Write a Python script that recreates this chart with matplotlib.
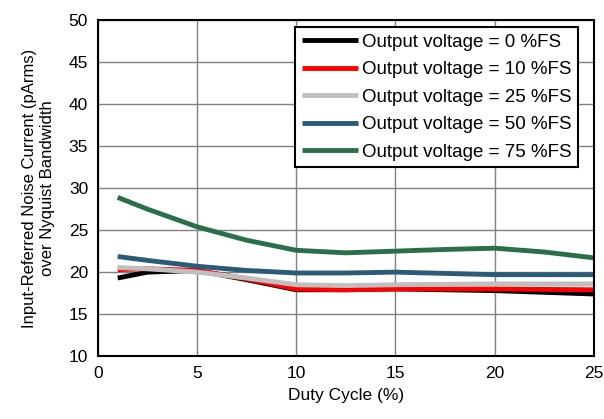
import matplotlib.pyplot as plt

plt.rcParams['font.family'] = ['Liberation Sans', 'DejaVu Sans']

duty = [1, 2.5, 5, 7.5, 10, 12.5, 15, 17.5, 20, 22.5, 25]

v0 = [19.3, 20.0, 20.2, 19.1, 17.9, 17.9, 18.0, 17.9, 17.8, 17.6, 17.4]
v10 = [20.3, 20.4, 20.2, 19.2, 18.0, 17.9, 18.0, 18.0, 18.0, 17.95, 17.9]
v25 = [20.55, 20.4, 20.0, 19.3, 18.5, 18.4, 18.5, 18.55, 18.6, 18.6, 18.6]
v50 = [21.86, 21.4, 20.7, 20.2, 19.9, 19.9, 20.0, 19.85, 19.7, 19.7, 19.7]
v75 = [28.9, 27.5, 25.4, 23.8, 22.6, 22.3, 22.5, 22.7, 22.85, 22.4, 21.7]

labels = ['Output voltage = 0 %FS', 'Output voltage = 10 %FS',
          'Output voltage = 25 %FS', 'Output voltage = 50 %FS',
          'Output voltage = 75 %FS']
colors = ['#000000', '#ff0000', '#bfbfbf', '#2a5c78', '#2a6e4a']

fig = plt.figure(figsize=(6.04, 4.19), dpi=100)
ax = fig.add_axes([0.162, 0.150, 0.821, 0.802])

for ys, lab, c in zip([v0, v10, v25, v50, v75], labels, colors):
    ax.plot(duty, ys, color=c, lw=3.5, label=lab, solid_capstyle='butt')

ax.set_xlim(0, 25)
ax.set_ylim(10, 50)
ax.set_xticks(range(0, 26, 5))
ax.set_yticks(range(10, 51, 5))
ax.grid(True, color='#808080', lw=1)
ax.set_axisbelow(True)
for s in ax.spines.values():
    s.set_linewidth(1.5)
ax.tick_params(length=0, labelsize=12.5, pad=7)
ax.set_xlabel('Duty Cycle (%)', fontsize=12.5, labelpad=5)
ax.set_ylabel('Input-Referred Noise Current (pArms)\nover Nyquist Bandwidth',
              fontsize=12, labelpad=10, linespacing=1.25)

leg = ax.legend(loc='upper right', bbox_to_anchor=(0.968, 0.979), fontsize=13.5,
                fancybox=False, framealpha=1, edgecolor='black',
                handlelength=3.0, handletextpad=0.2, labelspacing=0.55,
                borderpad=0.35, borderaxespad=0)
leg.get_frame().set_linewidth(1.5)

fig.savefig('out.png', dpi=100)
